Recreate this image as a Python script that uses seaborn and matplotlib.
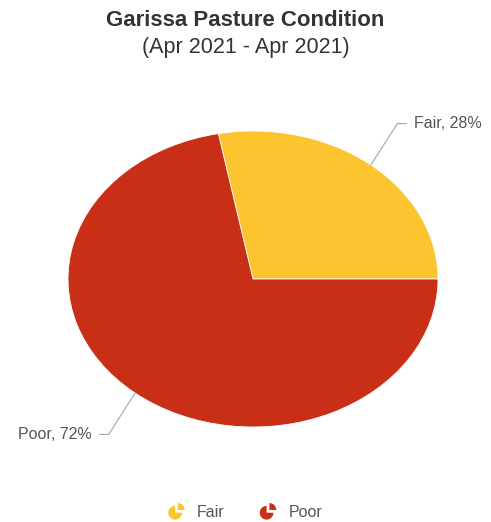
import numpy as np
import matplotlib
matplotlib.use("Agg")
import matplotlib.pyplot as plt
import seaborn as sns
from matplotlib.patches import Wedge
from matplotlib.legend_handler import HandlerPatch

# chart data
categories = ["Fair", "Poor"]
shares = [28, 72]
colors = ["#FCC530", "#C92E17"]
title = "Garissa Pasture Condition"
subtitle = "(Apr 2021 - Apr 2021)"


class WedgeHandler(HandlerPatch):
    # small pie-shaped legend icon
    def create_artists(self, legend, orig_handle, xdescent, ydescent,
                       width, height, fontsize, trans):
        cx = width / 2 - xdescent
        cy = height / 2 - ydescent
        r = min(width, height) * 0.48
        big = Wedge((cx - 1, cy - 1), r, 90, 360, facecolor=orig_handle.get_facecolor(),
                    edgecolor="none", transform=trans)
        small = Wedge((cx + 1, cy + 1), r, 0, 90, facecolor=orig_handle.get_facecolor(),
                      edgecolor="none", transform=trans)
        return [big, small]


def draw_chart():
    sns.set_theme(style="white")
    plt.rcParams["font.family"] = ["Liberation Sans", "DejaVu Sans"]

    fig = plt.figure(figsize=(4.91, 5.22), dpi=100)
    fig.patch.set_facecolor("white")

    # pie axes (stretched, so the pie is an ellipse like the reference)
    ax = fig.add_axes([68 / 491, 95 / 522, 370 / 491, 296 / 522])
    wedges, _ = ax.pie(shares, colors=colors, startangle=0, counterclock=True,
                       radius=1.0, wedgeprops=dict(linewidth=0.6, edgecolor="white"))
    ax.set_aspect("auto")
    ax.set_xlim(-1, 1)
    ax.set_ylim(-1, 1)
    ax.axis("off")

    # data labels with connectors
    for w, cat, val in zip(wedges, categories, shares):
        mid = np.deg2rad((w.theta1 + w.theta2) / 2)
        x0, y0 = np.cos(mid), np.sin(mid)
        sx, sy = np.sign(x0), np.sign(y0)
        elbow = (sx * 0.78, sy * 1.05)
        end = (sx * 0.83, sy * 1.05)
        ax.plot([x0, elbow[0], end[0]], [y0, elbow[1], end[1]],
                color="#9aa8b8", lw=0.8, clip_on=False)
        ax.text(sx * 0.87, sy * 1.05, f"{cat}, {val}%",
                ha="left" if sx > 0 else "right", va="center",
                fontsize=11.5, color="#555555", clip_on=False)

    fig.text(0.5, 1 - 20 / 522, title, ha="center", va="center",
             fontsize=16, fontweight="bold", color="#333333")
    fig.text(0.5, 1 - 47 / 522, subtitle, ha="center", va="center",
             fontsize=15.5, color="#333333")

    fig.legend(wedges, categories, loc="center", bbox_to_anchor=(0.5, 1 - 512 / 522),
               ncol=2, frameon=False, fontsize=11.5, labelcolor="#555555",
               handler_map={Wedge: WedgeHandler()}, handlelength=1.0,
               handleheight=1.0, columnspacing=2.2, handletextpad=0.8)

    fig.savefig("out.png", dpi=100, facecolor="white")
    plt.close(fig)


if __name__ == "__main__":
    draw_chart()
